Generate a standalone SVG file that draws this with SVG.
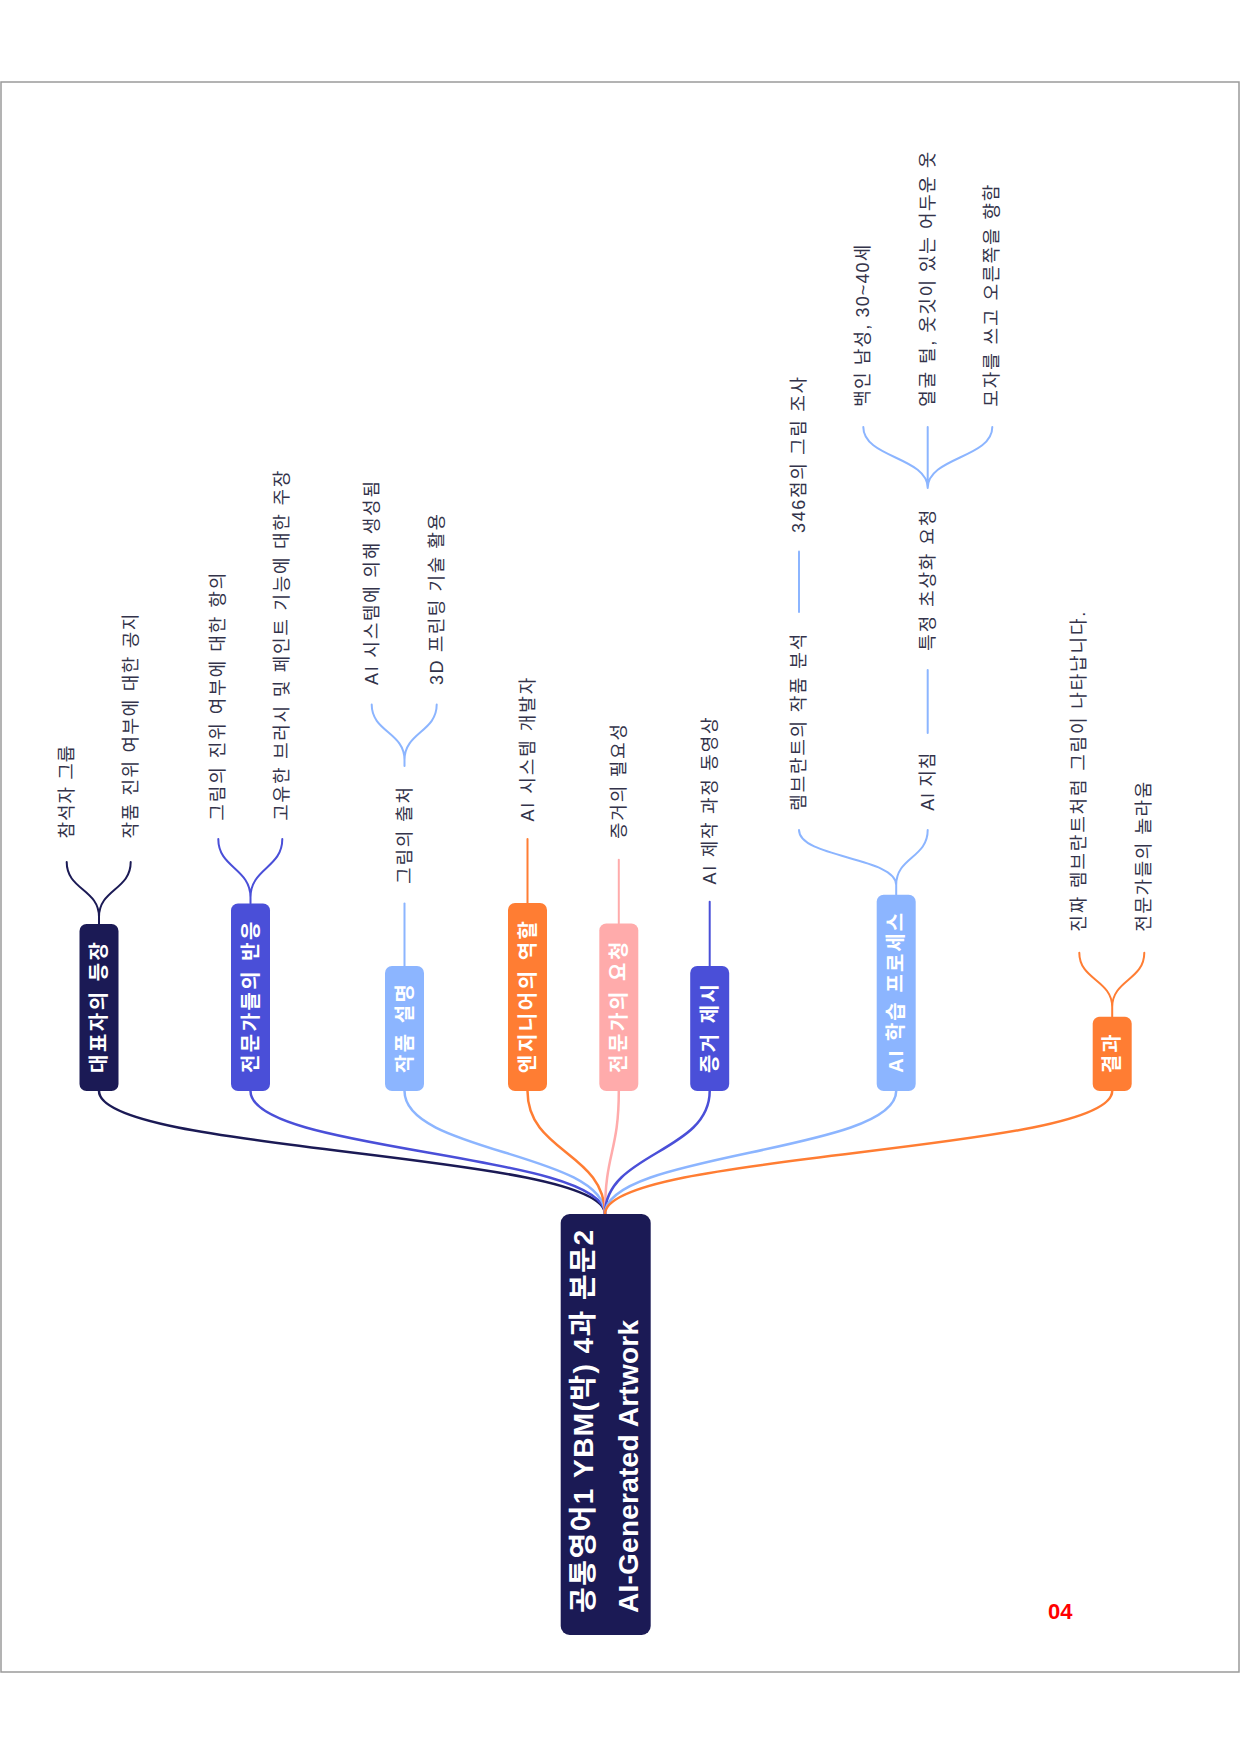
<svg xmlns="http://www.w3.org/2000/svg" width="1240" height="1754" viewBox="0 0 1240 1754">
<style>
  .frame{fill:none;stroke:#9a9a9a;stroke-width:1.5}
  .c{fill:none;stroke-width:2.5;stroke-linecap:round}
  .s{fill:none;stroke-width:2;stroke-linecap:round}
  .navy{stroke:#1b1a55}
  .violet{stroke:#4a4fd8}
  .sky{stroke:#8cb5ff}
  .orange{stroke:#ff7d33}
  .pink{stroke:#ffabab}
  .t0{font-family:"Liberation Sans","Noto Sans CJK KR",sans-serif;font-weight:bold;font-size:28px;fill:#ffffff;dominant-baseline:central}
  .t1{font-family:"Liberation Sans","Noto Sans CJK KR",sans-serif;font-weight:bold;font-size:20px;fill:#ffffff;dominant-baseline:central;text-anchor:middle}
  .t2{font-family:"Liberation Sans","Noto Sans CJK KR",sans-serif;font-size:18px;fill:#33334a;dominant-baseline:central}
  .pg{font-family:"Liberation Sans",sans-serif;font-weight:bold;font-size:22px;fill:#ff0000}
</style>
<rect class="frame" x="1" y="82" width="1238" height="1590"/>

<g id="connectors">
  <path class="c navy" d="M99 1091 C99 1152.5 605 1152.5 605 1214"/>
  <path class="c violet" d="M250.5 1091 C250.5 1152.5 605 1152.5 605 1214"/>
  <path class="c sky" d="M404.5 1091 C404.5 1152.5 605 1152.5 605 1214"/>
  <path class="c orange" d="M527.5 1091 C527.5 1152.5 605 1152.5 605 1214"/>
  <path class="c pink" d="M618.8 1091 C618.8 1152.5 605 1152.5 605 1214"/>
  <path class="c violet" d="M709.7 1091 C709.7 1152.5 605 1152.5 605 1214"/>
  <path class="c sky" d="M896.2 1091 C896.2 1152.5 605 1152.5 605 1214"/>
  <path class="c orange" d="M1112.2 1091 C1112.2 1152.5 605 1152.5 605 1214"/>

  <path class="s navy" d="M99 924 V917 M99 917 C99 889 66.7 890 66.7 862 M99 917 C99 889 130.7 890 130.7 862"/>
  <path class="s violet" d="M250.5 903.5 V897.5 M250.5 897.5 C250.5 868 218.3 868 218.3 839 M250.5 897.5 C250.5 868 282.3 868 282.3 839"/>
  <path class="s sky" d="M404.5 966 V903.6"/>
  <path class="s sky" d="M404.5 766 V760 M404.5 760 C404.5 732 371.7 732 371.7 704.6 M404.5 760 C404.5 732 436.7 732 436.7 704.6"/>
  <path class="s orange" d="M527.5 903 V839"/>
  <path class="s pink" d="M618.8 923.5 V859.8"/>
  <path class="s violet" d="M709.7 966 V901.8"/>
  <path class="s sky" d="M896.2 894.7 V885 M896.2 885 C896.2 857 799 858 799 830 M896.2 885 C896.2 857 927.7 858 927.7 830"/>
  <path class="s sky" d="M799 612 V551.5"/>
  <path class="s sky" d="M927.7 733 V670"/>
  <path class="s sky" d="M927.7 488 V427 M927.7 488 C927.7 457 863.3 458 863.3 427 M927.7 488 C927.7 457 992.3 458 992.3 427"/>
  <path class="s orange" d="M1112.2 1016.7 V1007 M1112.2 1007 C1112.2 980 1079.3 980 1079.3 952.7 M1112.2 1007 C1112.2 980 1144.3 980 1144.3 952.7"/>
</g>

<g id="root">
  <rect x="560.7" y="1214" width="90" height="421" rx="9" fill="#1b1a55"/>
  <text class="t0" transform="translate(583.3 1613) rotate(-90)" textLength="383" lengthAdjust="spacing">공통영어1 YBM(박) 4과 본문2</text>
  <text class="t0" transform="translate(628.3 1613) rotate(-90)" textLength="293" lengthAdjust="spacing">AI-Generated Artwork</text>
</g>

<g id="n-daepyo">
  <rect x="79.5" y="924" width="39" height="167" rx="7" fill="#1b1a55"/>
  <text class="t1" transform="translate(99 1007.5) rotate(-90)" textLength="131" lengthAdjust="spacing">대표자의 등장</text>
</g>
<g id="n-daepyo-1"><text class="t2" transform="translate(66.7 838.6) rotate(-90)" textLength="93" lengthAdjust="spacing">참석자 그룹</text></g>
<g id="n-daepyo-2"><text class="t2" transform="translate(130.7 838.6) rotate(-90)" textLength="225" lengthAdjust="spacing">작품 진위 여부에 대한 공지</text></g>

<g id="n-expert">
  <rect x="231" y="903.5" width="39" height="187.5" rx="7" fill="#4a4fd8"/>
  <text class="t1" transform="translate(250.5 997.3) rotate(-90)" textLength="151.5" lengthAdjust="spacing">전문가들의 반응</text>
</g>
<g id="n-expert-1"><text class="t2" transform="translate(218.3 820.7) rotate(-90)" textLength="248" lengthAdjust="spacing">그림의 진위 여부에 대한 항의</text></g>
<g id="n-expert-2"><text class="t2" transform="translate(282.3 820.7) rotate(-90)" textLength="350" lengthAdjust="spacing">고유한 브러시 및 페인트 기능에 대한 주장</text></g>

<g id="n-work">
  <rect x="385" y="966" width="39" height="125" rx="7" fill="#8cb5ff"/>
  <text class="t1" transform="translate(404.5 1028.5) rotate(-90)" textLength="89" lengthAdjust="spacing">작품 설명</text>
</g>
<g id="n-work-1"><text class="t2" transform="translate(404.5 884) rotate(-90)" textLength="97" lengthAdjust="spacing">그림의 출처</text></g>
<g id="n-work-1a"><text class="t2" transform="translate(371.7 685) rotate(-90)" textLength="204" lengthAdjust="spacing">AI 시스템에 의해 생성됨</text></g>
<g id="n-work-1b"><text class="t2" transform="translate(436.7 685) rotate(-90)" textLength="171" lengthAdjust="spacing">3D 프린팅 기술 활용</text></g>

<g id="n-engineer">
  <rect x="508" y="903" width="39" height="188" rx="7" fill="#ff7d33"/>
  <text class="t1" transform="translate(527.5 997) rotate(-90)" textLength="152" lengthAdjust="spacing">엔지니어의 역할</text>
</g>
<g id="n-engineer-1"><text class="t2" transform="translate(527.5 821.6) rotate(-90)" textLength="144" lengthAdjust="spacing">AI 시스템 개발자</text></g>

<g id="n-request">
  <rect x="599.3" y="923.5" width="39" height="167.5" rx="7" fill="#ffabab"/>
  <text class="t1" transform="translate(618.8 1007.3) rotate(-90)" textLength="131.5" lengthAdjust="spacing">전문가의 요청</text>
</g>
<g id="n-request-1"><text class="t2" transform="translate(618.8 839) rotate(-90)" textLength="115" lengthAdjust="spacing">증거의 필요성</text></g>

<g id="n-evidence">
  <rect x="690.2" y="966" width="39" height="125" rx="7" fill="#4a4fd8"/>
  <text class="t1" transform="translate(709.7 1028.5) rotate(-90)" textLength="89" lengthAdjust="spacing">증거 제시</text>
</g>
<g id="n-evidence-1"><text class="t2" transform="translate(709.7 884.5) rotate(-90)" textLength="167" lengthAdjust="spacing">AI 제작 과정 동영상</text></g>

<g id="n-ai">
  <rect x="876.7" y="894.7" width="39" height="196.3" rx="7" fill="#8cb5ff"/>
  <text class="t1" transform="translate(896.2 992.8) rotate(-90)" textLength="160" lengthAdjust="spacing">AI 학습 프로세스</text>
</g>
<g id="n-ai-1"><text class="t2" transform="translate(799 810.8) rotate(-90)" textLength="177" lengthAdjust="spacing">렘브란트의 작품 분석</text></g>
<g id="n-ai-1a"><text class="t2" transform="translate(799 533) rotate(-90)" textLength="156" lengthAdjust="spacing">346점의 그림 조사</text></g>
<g id="n-ai-2"><text class="t2" transform="translate(927.7 810.8) rotate(-90)" textLength="58" lengthAdjust="spacing">AI 지침</text></g>
<g id="n-ai-2a"><text class="t2" transform="translate(927.7 650.8) rotate(-90)" textLength="141" lengthAdjust="spacing">특정 초상화 요청</text></g>
<g id="n-ai-2a-1"><text class="t2" transform="translate(863.3 406.7) rotate(-90)" textLength="162" lengthAdjust="spacing">백인 남성, 30~40세</text></g>
<g id="n-ai-2a-2"><text class="t2" transform="translate(927.7 406.7) rotate(-90)" textLength="255" lengthAdjust="spacing">얼굴 털, 옷깃이 있는 어두운 옷</text></g>
<g id="n-ai-2a-3"><text class="t2" transform="translate(992.3 406.7) rotate(-90)" textLength="222" lengthAdjust="spacing">모자를 쓰고 오른쪽을 향함</text></g>

<g id="n-result">
  <rect x="1092.7" y="1016.7" width="39" height="74.3" rx="7" fill="#ff7d33"/>
  <text class="t1" transform="translate(1112.2 1053.8) rotate(-90)" textLength="39" lengthAdjust="spacing">결과</text>
</g>
<g id="n-result-1"><text class="t2" transform="translate(1079.3 931.7) rotate(-90)" textLength="320" lengthAdjust="spacing">진짜 렘브란트처럼 그림이 나타납니다.</text></g>
<g id="n-result-2"><text class="t2" transform="translate(1144.3 931.7) rotate(-90)" textLength="150" lengthAdjust="spacing">전문가들의 놀라움</text></g>

<text class="pg" x="1048" y="1619">04</text>
</svg>
